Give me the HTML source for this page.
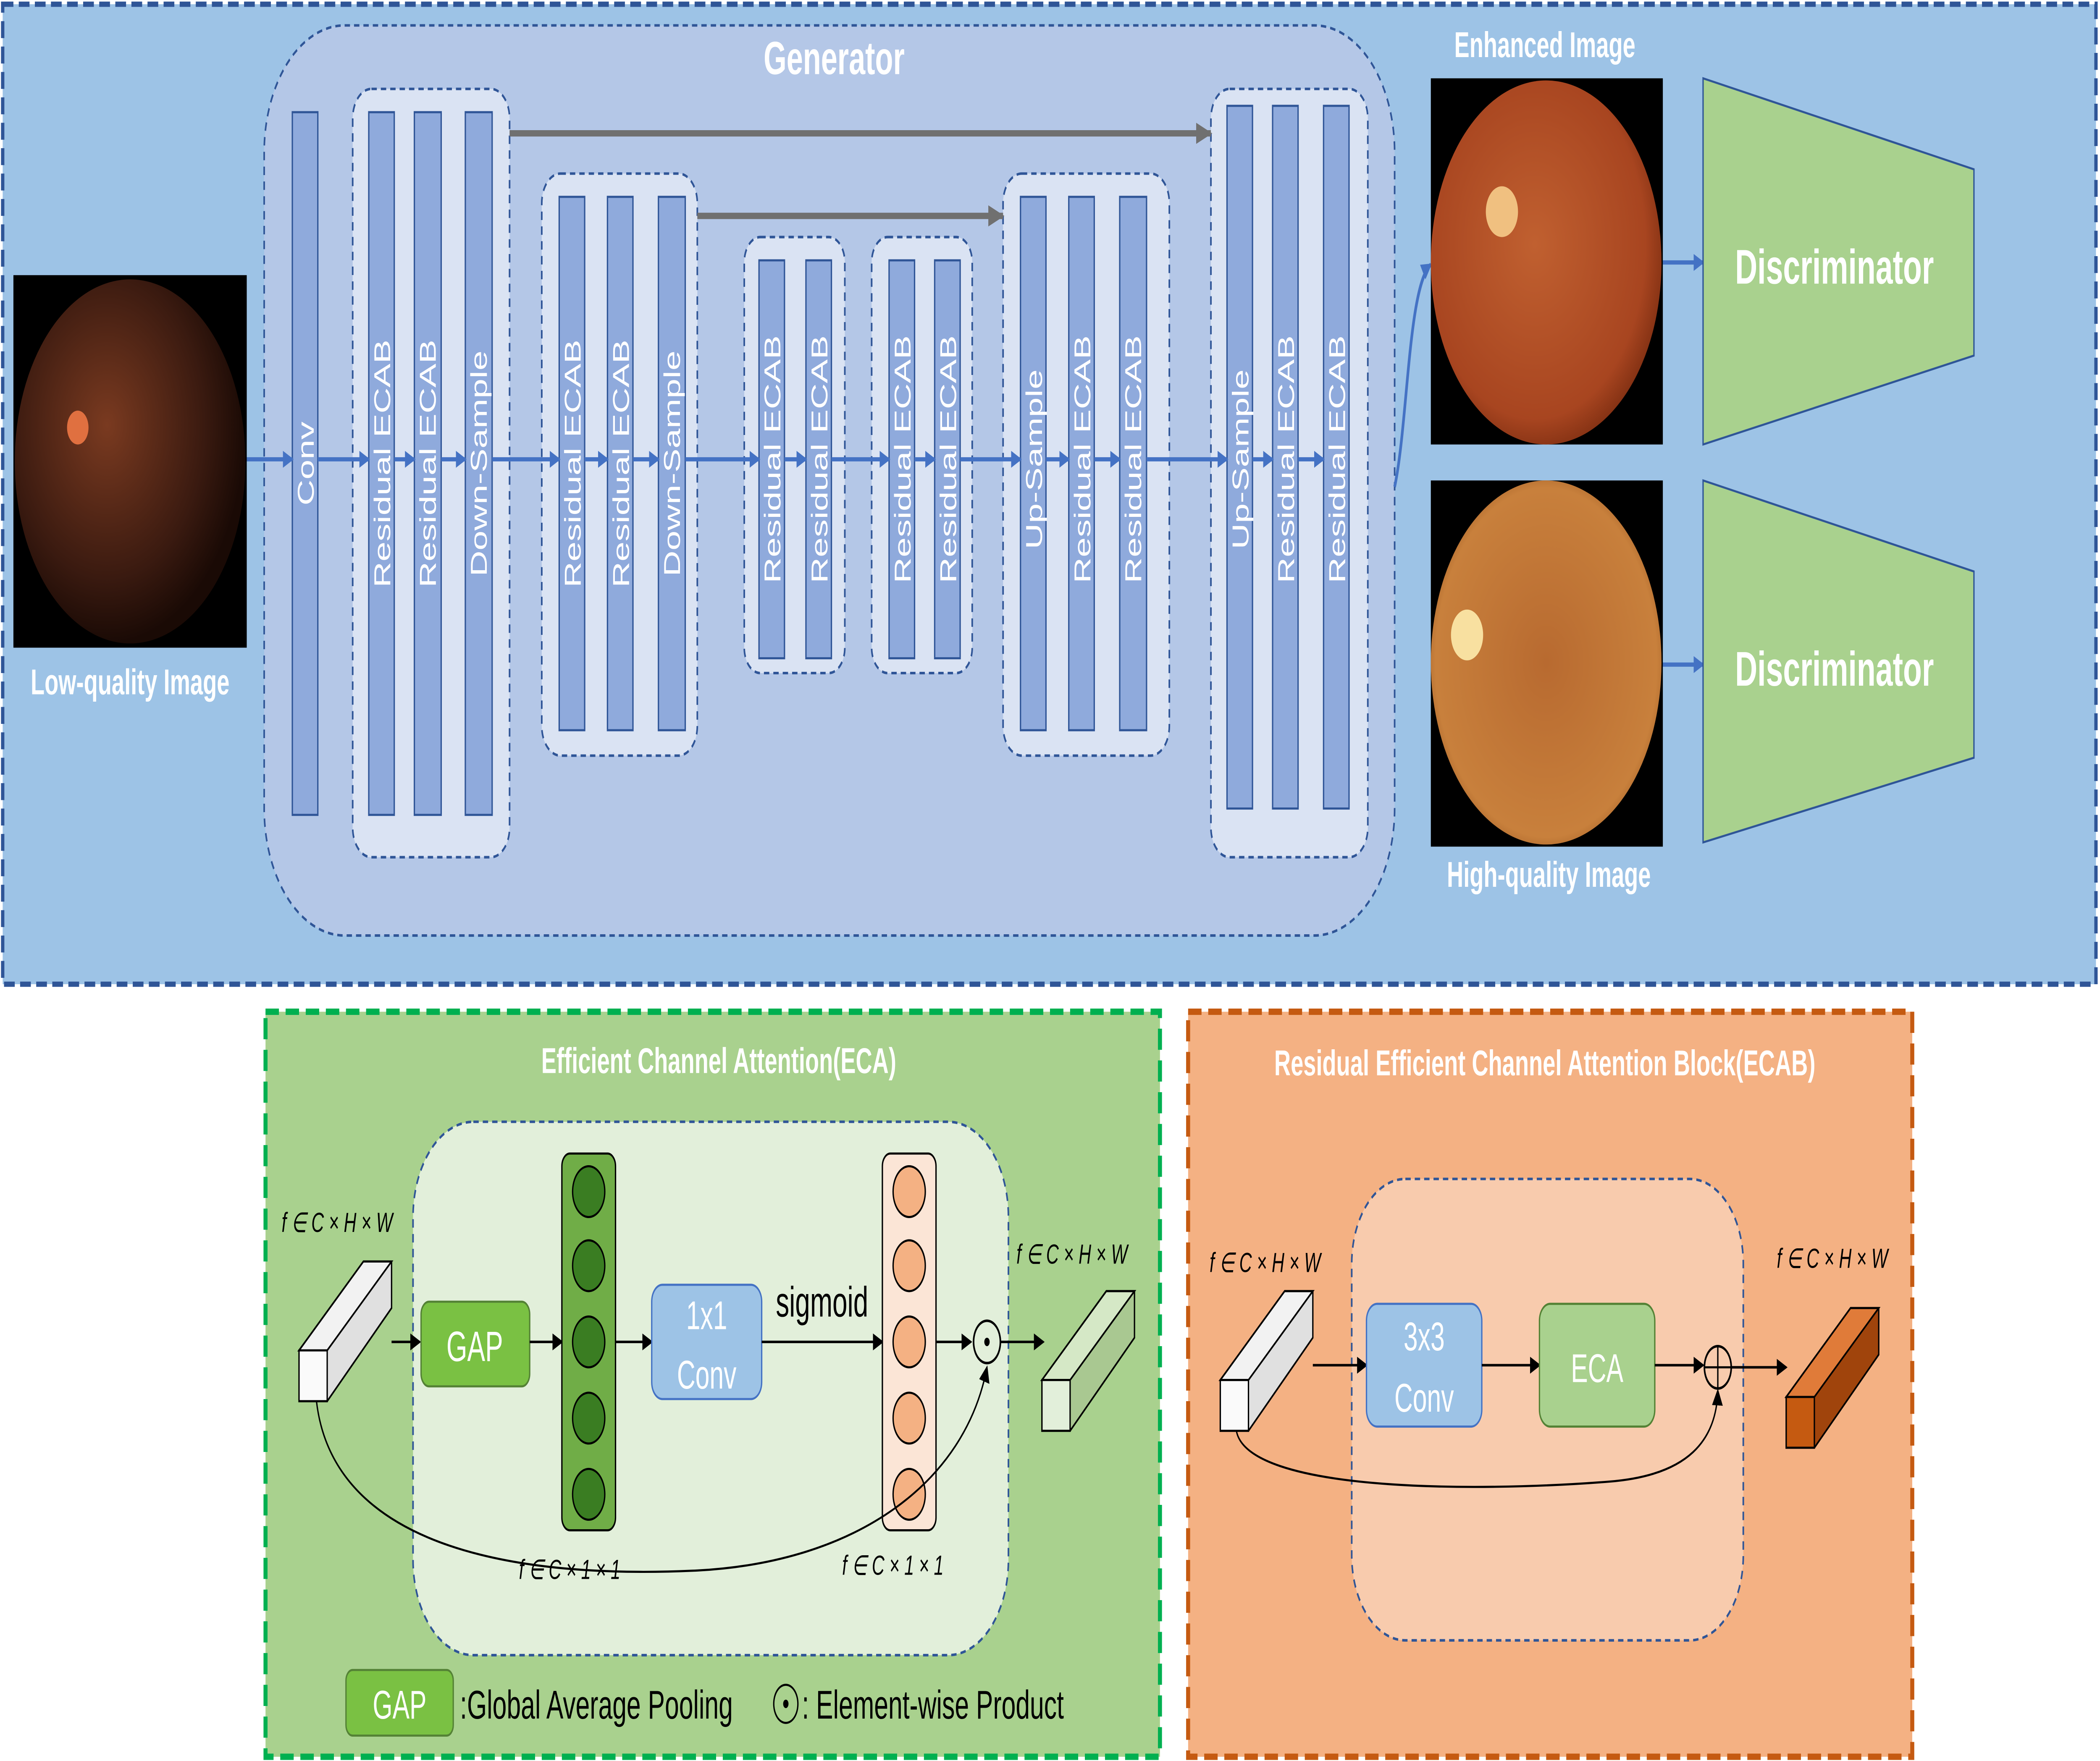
<!DOCTYPE html>
<html><head><meta charset="utf-8"><style>
html,body{margin:0;padding:0;background:#fff;overflow:hidden;width:100%;height:100%;}
svg{display:block;width:100vw;height:100vh;}
text{font-family:"Liberation Sans",sans-serif;}
</style></head><body>
<svg viewBox="0 0 1566 832" preserveAspectRatio="none" xmlns="http://www.w3.org/2000/svg">
<defs>
<marker id="ab" markerWidth="8" markerHeight="8" refX="7" refY="4" orient="auto" markerUnits="userSpaceOnUse"><path d="M0,0 L8,4 L0,8 z" fill="#4472c4"/></marker>
<marker id="ag" markerWidth="12" markerHeight="10" refX="11" refY="5" orient="auto" markerUnits="userSpaceOnUse"><path d="M0,0 L12,5 L0,10 z" fill="#707070"/></marker>
<marker id="ak" markerWidth="8" markerHeight="8" refX="7" refY="4" orient="auto" markerUnits="userSpaceOnUse"><path d="M0,0 L8,4 L0,8 z" fill="#000"/></marker>
<radialGradient id="f1" cx="0.4" cy="0.4" r="0.6"><stop offset="0" stop-color="#7a3a20"/><stop offset="0.7" stop-color="#3a1a10"/><stop offset="1" stop-color="#1a0a05"/></radialGradient>
<radialGradient id="f2" cx="0.45" cy="0.45" r="0.6"><stop offset="0" stop-color="#c06030"/><stop offset="0.8" stop-color="#a84520"/><stop offset="1" stop-color="#7a2c10"/></radialGradient>
<radialGradient id="f3" cx="0.5" cy="0.5" r="0.6"><stop offset="0" stop-color="#b86a30"/><stop offset="0.8" stop-color="#c8803c"/><stop offset="1" stop-color="#8a4a18"/></radialGradient>
</defs>
<rect x="2" y="2" width="1561" height="463" fill="#9dc3e6" stroke="#2f5597" stroke-width="2.5" stroke-dasharray="8,4"/>
<rect x="197" y="12" width="843" height="430" rx="60" fill="#b4c7e7" stroke="#2f5597" stroke-width="1.2" stroke-dasharray="4,3"/>
<text x="622" y="35" font-size="22" font-weight="bold" fill="#fff" text-anchor="middle">Generator</text>
<g fill="#dae3f3" stroke="#2f5597" stroke-width="1.2" stroke-dasharray="4,3">
<rect x="263" y="42" width="117" height="363" rx="14"/>
<rect x="404" y="82" width="116" height="275" rx="14"/>
<rect x="555" y="112" width="75" height="206" rx="12"/>
<rect x="650" y="112" width="75" height="206" rx="12"/>
<rect x="748" y="82" width="124" height="275" rx="14"/>
<rect x="903" y="42" width="117" height="363" rx="14"/>
</g>
<line x1="380" y1="63" x2="903" y2="63" stroke="#707070" stroke-width="3" marker-end="url(#ag)"/>
<line x1="520" y1="102" x2="748" y2="102" stroke="#707070" stroke-width="3" marker-end="url(#ag)"/>
<g fill="#8faadc" stroke="#2f5597" stroke-width="1">
<rect x="218" y="53" width="19" height="332"/>
<rect x="275" y="53" width="19" height="332"/><rect x="309" y="53" width="20" height="332"/><rect x="347" y="53" width="20" height="332"/>
<rect x="417" y="93" width="19" height="252"/><rect x="453" y="93" width="19" height="252"/><rect x="491" y="93" width="20" height="252"/>
<rect x="566" y="123" width="19" height="188"/><rect x="601" y="123" width="19" height="188"/>
<rect x="663" y="123" width="19" height="188"/><rect x="697" y="123" width="19" height="188"/>
<rect x="761" y="93" width="19" height="252"/><rect x="797" y="93" width="19" height="252"/><rect x="835" y="93" width="20" height="252"/>
<rect x="915" y="50" width="19" height="332"/><rect x="949" y="50" width="19" height="332"/><rect x="987" y="50" width="19" height="332"/>
</g>
<g stroke="#4472c4" stroke-width="2" marker-end="url(#ab)">
<line x1="184" y1="217" x2="218" y2="217"/><line x1="237" y1="217" x2="275" y2="217"/><line x1="294" y1="217" x2="309" y2="217"/><line x1="329" y1="217" x2="347" y2="217"/>
<line x1="367" y1="217" x2="417" y2="217"/><line x1="436" y1="217" x2="453" y2="217"/><line x1="472" y1="217" x2="491" y2="217"/>
<line x1="511" y1="217" x2="566" y2="217"/><line x1="585" y1="217" x2="601" y2="217"/><line x1="620" y1="217" x2="663" y2="217"/><line x1="682" y1="217" x2="697" y2="217"/>
<line x1="716" y1="217" x2="761" y2="217"/><line x1="780" y1="217" x2="797" y2="217"/><line x1="816" y1="217" x2="835" y2="217"/>
<line x1="855" y1="217" x2="915" y2="217"/><line x1="934" y1="217" x2="949" y2="217"/><line x1="968" y1="217" x2="987" y2="217"/>
<path d="M1040,230 C1050,200 1050,135 1067,125" fill="none"/>
<line x1="1240" y1="124" x2="1270" y2="124"/><line x1="1240" y1="314" x2="1270" y2="314"/>
</g>
<g fill="#fff" font-size="17">
<text transform="translate(234,219) rotate(-90)" text-anchor="middle">Conv</text>
<text transform="translate(291,219) rotate(-90)" text-anchor="middle">Residual ECAB</text>
<text transform="translate(325,219) rotate(-90)" text-anchor="middle">Residual ECAB</text>
<text transform="translate(363,219) rotate(-90)" text-anchor="middle">Down-Sample</text>
<text transform="translate(433,219) rotate(-90)" text-anchor="middle">Residual ECAB</text>
<text transform="translate(469,219) rotate(-90)" text-anchor="middle">Residual ECAB</text>
<text transform="translate(507,219) rotate(-90)" text-anchor="middle">Down-Sample</text>
<text transform="translate(582,217) rotate(-90)" text-anchor="middle">Residual ECAB</text>
<text transform="translate(617,217) rotate(-90)" text-anchor="middle">Residual ECAB</text>
<text transform="translate(679,217) rotate(-90)" text-anchor="middle">Residual ECAB</text>
<text transform="translate(713,217) rotate(-90)" text-anchor="middle">Residual ECAB</text>
<text transform="translate(777,217) rotate(-90)" text-anchor="middle">Up-Sample</text>
<text transform="translate(813,217) rotate(-90)" text-anchor="middle">Residual ECAB</text>
<text transform="translate(851,217) rotate(-90)" text-anchor="middle">Residual ECAB</text>
<text transform="translate(931,217) rotate(-90)" text-anchor="middle">Up-Sample</text>
<text transform="translate(965,217) rotate(-90)" text-anchor="middle">Residual ECAB</text>
<text transform="translate(1003,217) rotate(-90)" text-anchor="middle">Residual ECAB</text>
</g>
<rect x="10" y="130" width="174" height="176" fill="#000"/>
<circle cx="97" cy="218" r="86" fill="url(#f1)"/>
<circle cx="58" cy="202" r="8" fill="#e07040"/>
<rect x="1067" y="37" width="173" height="173" fill="#000"/>
<circle cx="1153" cy="124" r="86" fill="url(#f2)"/>
<circle cx="1120" cy="100" r="12" fill="#f0c080"/>
<rect x="1067" y="227" width="173" height="173" fill="#000"/>
<circle cx="1153" cy="313" r="86" fill="url(#f3)"/>
<circle cx="1094" cy="300" r="12" fill="#f8e0a0"/>
<g fill="#fff" font-weight="bold" font-size="17" text-anchor="middle">
<text x="97" y="328">Low-quality Image</text>
<text x="1152" y="27">Enhanced Image</text>
<text x="1155" y="419">High-quality Image</text>
</g>
<polygon points="1270,37 1472,80 1472,168 1270,210" fill="#a9d18e" stroke="#2f5597" stroke-width="1"/>
<polygon points="1270,227 1472,270 1472,358 1270,398" fill="#a9d18e" stroke="#2f5597" stroke-width="1"/>
<text x="1368" y="134" font-size="23" font-weight="bold" fill="#fff" text-anchor="middle">Discriminator</text>
<text x="1368" y="324" font-size="23" font-weight="bold" fill="#fff" text-anchor="middle">Discriminator</text>
<rect x="198" y="478" width="667" height="352" fill="#a9d18e" stroke="#00b050" stroke-width="3" stroke-dasharray="10,5"/>
<text x="536" y="507" font-size="17" font-weight="bold" fill="#fff" text-anchor="middle">Efficient Channel Attention(ECA)</text>
<rect x="308" y="530" width="444" height="252" rx="45" fill="#e2efda" stroke="#2f5597" stroke-width="1.2" stroke-dasharray="4,3"/>
<g font-family="Liberation Serif" font-style="italic" font-size="13" fill="#000">
<text x="210" y="582">f ∈ C × H × W</text>
<text x="758" y="597">f ∈ C × H × W</text>
<text x="387" y="746">f ∈ C × 1 × 1</text>
<text x="628" y="744">f ∈ C × 1 × 1</text>
</g>
<polygon points="223,638 271,596 292,596 292,618 244,662 223,662" fill="#e0e0e0" stroke="#000"/>
<polygon points="223,638 271,596 292,596 244,638" fill="#f2f2f2" stroke="#000"/>
<rect x="223" y="638" width="21" height="24" fill="#fafafa" stroke="#000"/>
<line x1="292" y1="634" x2="313" y2="634" stroke="#000" stroke-width="1.2" marker-end="url(#ak)"/>
<rect x="314" y="615" width="81" height="40" rx="6" fill="#7ac143" stroke="#548235"/>
<text x="354" y="643" font-size="20" fill="#fff" text-anchor="middle">GAP</text>
<line x1="395" y1="634" x2="419" y2="634" stroke="#000" stroke-width="1.2" marker-end="url(#ak)"/>
<rect x="419" y="545" width="40" height="178" rx="6" fill="#70ad47" stroke="#000"/>
<g fill="#3a7d22" stroke="#000"><circle cx="439" cy="563" r="12"/><circle cx="439" cy="598" r="12"/><circle cx="439" cy="634" r="12"/><circle cx="439" cy="670" r="12"/><circle cx="439" cy="706" r="12"/></g>
<line x1="459" y1="634" x2="486" y2="634" stroke="#000" stroke-width="1.2" marker-end="url(#ak)"/>
<rect x="486" y="607" width="82" height="54" rx="8" fill="#9dc3e6" stroke="#4472c4"/>
<text x="527" y="628" font-size="19" fill="#fff" text-anchor="middle">1x1</text>
<text x="527" y="656" font-size="19" fill="#fff" text-anchor="middle">Conv</text>
<line x1="568" y1="634" x2="658" y2="634" stroke="#000" stroke-width="1.2" marker-end="url(#ak)"/>
<text x="613" y="622" font-size="20" fill="#000" text-anchor="middle">sigmoid</text>
<rect x="658" y="545" width="40" height="178" rx="6" fill="#fbe5d6" stroke="#000"/>
<g fill="#f4b183" stroke="#000"><circle cx="678" cy="563" r="12"/><circle cx="678" cy="598" r="12"/><circle cx="678" cy="634" r="12"/><circle cx="678" cy="670" r="12"/><circle cx="678" cy="706" r="12"/></g>
<line x1="698" y1="634" x2="724" y2="634" stroke="#000" stroke-width="1.2" marker-end="url(#ak)"/>
<circle cx="736" cy="634" r="10" fill="none" stroke="#000" stroke-width="1.2"/><circle cx="736" cy="634" r="2" fill="#000"/>
<line x1="746" y1="634" x2="778" y2="634" stroke="#000" stroke-width="1.2" marker-end="url(#ak)"/>
<path d="M236,662 C250,740 420,745 520,742 C640,738 720,700 736,646" fill="none" stroke="#000" stroke-width="1" marker-end="url(#ak)"/>
<polygon points="777,652 825,610 846,610 846,632 798,676 777,676" fill="#a9c891" stroke="#000"/>
<polygon points="777,652 825,610 846,610 798,652" fill="#d5e8c6" stroke="#000"/>
<rect x="777" y="652" width="21" height="24" fill="#e2efda" stroke="#000"/>
<rect x="258" y="789" width="80" height="31" rx="5" fill="#7ac143" stroke="#548235"/>
<text x="298" y="812" font-size="19" fill="#fff" text-anchor="middle">GAP</text>
<text x="343" y="812" font-size="19" fill="#000">:Global Average Pooling</text>
<circle cx="586" cy="805" r="9" fill="none" stroke="#000"/><circle cx="586" cy="805" r="2" fill="#000"/>
<text x="598" y="812" font-size="19" fill="#000">: Element-wise Product</text>
<rect x="886" y="478" width="540" height="352" fill="#f4b183" stroke="#c55a11" stroke-width="3" stroke-dasharray="10,5"/>
<text x="1152" y="508" font-size="17" font-weight="bold" fill="#fff" text-anchor="middle">Residual Efficient Channel Attention Block(ECAB)</text>
<rect x="1008" y="557" width="292" height="218" rx="40" fill="#f8cbad" stroke="#2f5597" stroke-width="1.2" stroke-dasharray="4,3"/>
<g font-family="Liberation Serif" font-style="italic" font-size="13" fill="#000">
<text x="902" y="601">f ∈ C × H × W</text>
<text x="1325" y="599">f ∈ C × H × W</text>
</g>
<polygon points="910,652 958,610 979,610 979,632 931,676 910,676" fill="#e0e0e0" stroke="#000"/>
<polygon points="910,652 958,610 979,610 931,652" fill="#f2f2f2" stroke="#000"/>
<rect x="910" y="652" width="21" height="24" fill="#fafafa" stroke="#000"/>
<line x1="979" y1="645" x2="1019" y2="645" stroke="#000" stroke-width="1.2" marker-end="url(#ak)"/>
<rect x="1019" y="616" width="86" height="58" rx="8" fill="#9dc3e6" stroke="#4472c4"/>
<text x="1062" y="638" font-size="19" fill="#fff" text-anchor="middle">3x3</text>
<text x="1062" y="667" font-size="19" fill="#fff" text-anchor="middle">Conv</text>
<line x1="1105" y1="645" x2="1148" y2="645" stroke="#000" stroke-width="1.2" marker-end="url(#ak)"/>
<rect x="1148" y="616" width="86" height="58" rx="8" fill="#a9d18e" stroke="#548235"/>
<text x="1191" y="653" font-size="19" fill="#fff" text-anchor="middle">ECA</text>
<line x1="1234" y1="645" x2="1270" y2="645" stroke="#000" stroke-width="1.2" marker-end="url(#ak)"/>
<circle cx="1281" cy="646" r="10" fill="none" stroke="#000" stroke-width="1.2"/>
<line x1="1271" y1="646" x2="1291" y2="646" stroke="#000"/><line x1="1281" y1="636" x2="1281" y2="656" stroke="#000"/>
<line x1="1291" y1="646" x2="1332" y2="646" stroke="#000" stroke-width="1.2" marker-end="url(#ak)"/>
<path d="M922,676 C930,705 1100,705 1200,700 C1260,697 1280,680 1281,657" fill="none" stroke="#000" stroke-width="1" marker-end="url(#ak)"/>
<polygon points="1332,660 1380,618 1401,618 1401,640 1353,684 1332,684" fill="#a0440c" stroke="#000"/>
<polygon points="1332,660 1380,618 1401,618 1353,660" fill="#e07b39" stroke="#000"/>
<rect x="1332" y="660" width="21" height="24" fill="#c55a11" stroke="#000"/>
</svg>
</body></html>
